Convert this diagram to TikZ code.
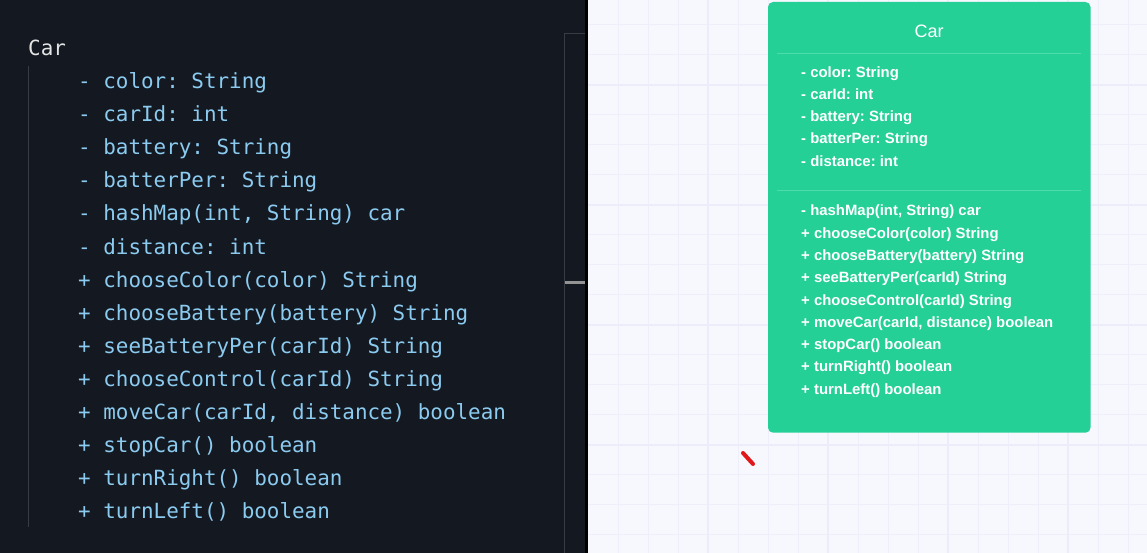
\documentclass[tikz,border=0pt]{standalone}
\usepackage{fontspec}
\newfontfamily\codefont{DejaVu Sans Mono}
\newfontfamily\uifont{Liberation Sans}
\definecolor{panelbg}{HTML}{131821}
\definecolor{codeblue}{HTML}{8CCBF0}
\definecolor{codegray}{HTML}{E4E4E4}
\definecolor{guide}{HTML}{363B44}
\definecolor{canvasbg}{HTML}{F7F8FE}
\definecolor{gridminor}{HTML}{EEEFFA}
\definecolor{gridmajor}{HTML}{EBEDFA}
\definecolor{umlgreen}{HTML}{24D096}
\definecolor{umlsep}{HTML}{4FDCAB}
\definecolor{penred}{HTML}{E0181C}
\begin{document}
\frenchspacing
\begin{tikzpicture}[x=1pt,y=-1pt,
  codeline/.style={anchor=base west,inner sep=0pt,text=codeblue,font=\codefont\frenchspacing\fontsize{20.9}{25}\selectfont},
  codetitle/.style={codeline,text=codegray},
  umlline/.style={anchor=base west,inner sep=0pt,text=white,font=\uifont\bfseries\frenchspacing\fontsize{14.9}{18}\selectfont},
  umltitle/.style={anchor=base,inner sep=0pt,text=white,font=\uifont\fontsize{18}{21}\selectfont},
  umlbox/.style={fill=umlgreen,rounded corners=5pt},
  umlrule/.style={draw=umlsep,line width=0.8pt}]
\useasboundingbox (0,0) rectangle (1147,553);
% panels
\fill[panelbg] (0,0) rectangle (586,553);
\fill[black] (585,0) rectangle (588,553);
\fill[canvasbg] (588,0) rectangle (1147,553);
% grid
\foreach \x in {618.3,648.3,678.3,738.3,768.3,798.3,858.3,888.3,918.3,978.3,1008.3,1038.3,1098.3,1128.3}
  \draw[gridminor,line width=1pt] (\x,0) -- (\x,553);
\foreach \y in {24.7,54.7,114.7,144.7,174.7,234.7,264.7,294.7,354.7,384.7,414.7,474.7,504.7,534.7}
  \draw[gridminor,line width=1pt] (588,\y) -- (1147,\y);
\foreach \x in {708.3,828.3,948.3,1068.3}
  \draw[gridmajor,line width=2pt] (\x,0) -- (\x,553);
\foreach \y in {84.7,204.7,324.7,444.7}
  \draw[gridmajor,line width=2pt] (588,\y) -- (1147,\y);
% editor guides
\draw[guide,line width=1pt] (28,66) -- (28,527);
\draw[guide,line width=1pt] (585,33.5) -- (564.5,33.5) -- (564.5,553);
\fill[gray!85!white] (565,280.5) rectangle (585,283.5);
% code text
\node[codetitle] (cTitle) at (28,56) {Car};
\node[codeline] (c1) at (78,89) {- color: String};
\node[codeline] (c2) at (78,122) {- carId: int};
\node[codeline] (c3) at (78,155) {- battery: String};
\node[codeline] (c4) at (78,188) {- batterPer: String};
\node[codeline] (c5) at (78,221) {- hashMap(int, String) car};
\node[codeline] (c6) at (78,254) {- distance: int};
\node[codeline] (c7) at (78,287) {+ chooseColor(color) String};
\node[codeline] (c8) at (78,320) {+ chooseBattery(battery) String};
\node[codeline] (c9) at (78,353) {+ seeBatteryPer(carId) String};
\node[codeline] (c10) at (78,386) {+ chooseControl(carId) String};
\node[codeline] (c11) at (78,419) {+ moveCar(carId, distance) boolean};
\node[codeline] (c12) at (78,452) {+ stopCar() boolean};
\node[codeline] (c13) at (78,485) {+ turnRight() boolean};
\node[codeline] (c14) at (78,518) {+ turnLeft() boolean};
% UML box
\fill[umlbox] (768,2) rectangle (1090.5,432.7);
\node[umltitle] (uTitle) at (929,37.5) {Car};
\draw[umlrule] (777,53.3) -- (1081,53.3);
\draw[umlrule] (777,190.5) -- (1081,190.5);
\node[umlline] (a1) at (801,77.3) {- color: String};
\node[umlline] (a2) at (801,99.5) {- carId: int};
\node[umlline] (a3) at (801,121.7) {- battery: String};
\node[umlline] (a4) at (801,143.9) {- batterPer: String};
\node[umlline] (a5) at (801,166.1) {- distance: int};
\node[umlline] (m1) at (801,216) {- hashMap(int, String) car};
\node[umlline] (m2) at (801,238.25) {+ chooseColor(color) String};
\node[umlline] (m3) at (801,260.5) {+ chooseBattery(battery) String};
\node[umlline] (m4) at (801,282.75) {+ seeBatteryPer(carId) String};
\node[umlline] (m5) at (801,305) {+ chooseControl(carId) String};
\node[umlline] (m6) at (801,327.25) {+ moveCar(carId, distance) boolean};
\node[umlline] (m7) at (801,349.5) {+ stopCar() boolean};
\node[umlline] (m8) at (801,371.75) {+ turnRight() boolean};
\node[umlline] (m9) at (801,394) {+ turnLeft() boolean};
% red pen mark
\draw[penred,line width=4pt,line cap=round] (743,453) -- (753,464);
\end{tikzpicture}
\end{document}
